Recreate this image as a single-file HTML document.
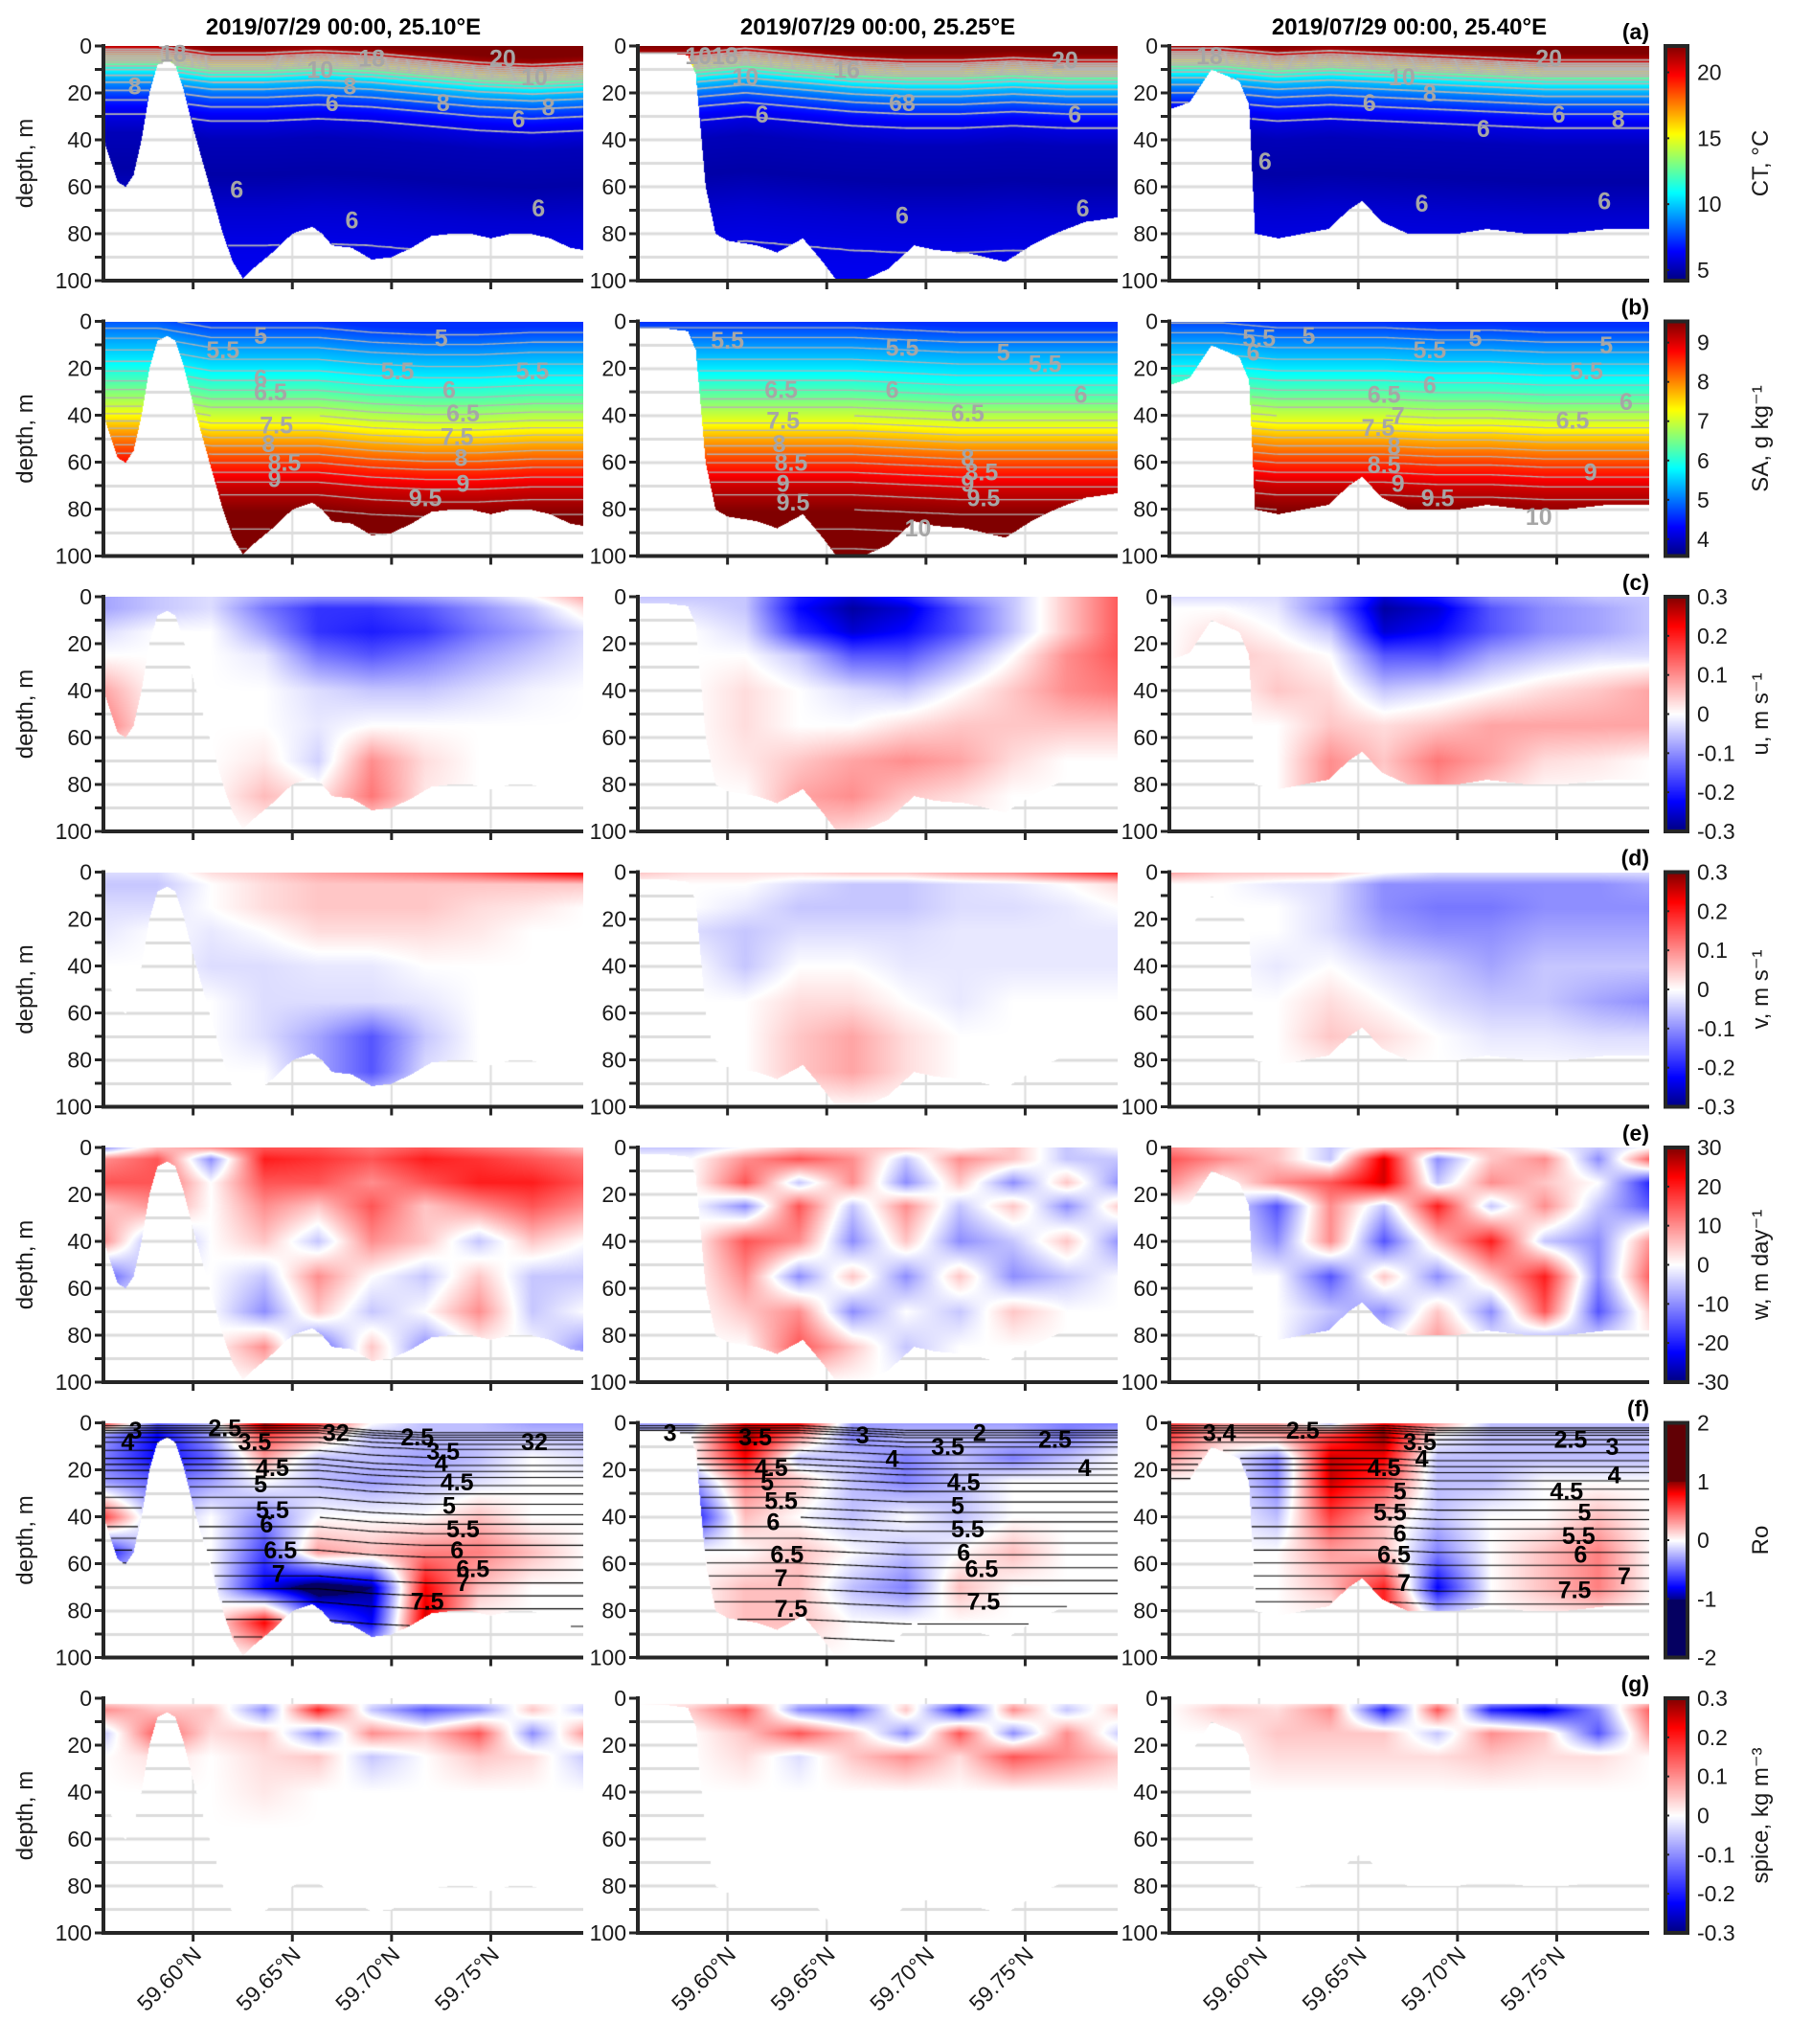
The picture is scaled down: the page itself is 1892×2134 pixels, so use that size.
<!DOCTYPE html>
<html><head><meta charset="utf-8">
<style>
body{margin:0;background:#fff}
#fig{position:relative;width:1892px;height:2134px;overflow:hidden;background:#fff}
canvas{position:absolute}
svg{position:absolute;left:0;top:0}
text{font-family:"Liberation Sans",sans-serif}
</style></head>
<body>
<div id="fig">
<svg id="ov" width="1892" height="2134"></svg>
</div>
<script>
// ---------- data ----------
const latGrid=[59.555,59.582,59.609,59.636,59.663,59.690,59.717,59.744,59.771,59.798];
const zGrid=[0,5,15,25,40,55,70,85,100];
const latTicks=[59.60,59.65,59.70,59.75];
const latTickLabels=["59.60°N","59.65°N","59.70°N","59.75°N"];
const depthTicks=[0,20,40,60,80,100];
const colTitles=["2019/07/29 00:00, 25.10°E","2019/07/29 00:00, 25.25°E","2019/07/29 00:00, 25.40°E"];

const bathLat1=[59.555,59.558,59.562,59.566,59.570,59.574,59.578,59.582,59.587,59.591,59.595,59.600,59.605,59.610,59.615,59.620,59.625,59.630,59.640,59.650,59.660,59.665,59.670,59.680,59.690,59.700,59.710,59.720,59.730,59.740,59.750,59.760,59.770,59.780,59.790,59.797];
const bathDep1=[40,48,58,60,55,40,20,8,6,8,18,35,50,65,80,92,99,95,88,80,77,80,85,86,91,90,86,81,80,80,82,80,80,82,86,87];
const bathLat2=[59.555,59.570,59.580,59.584,59.589,59.594,59.600,59.615,59.625,59.638,59.648,59.655,59.668,59.681,59.694,59.705,59.720,59.740,59.753,59.765,59.780,59.797];
const bathDep2=[3,3,4,12,60,80,83,85,88,82,92,100,100,95,85,87,88,92,85,80,75,73];
const bathLat3=[59.555,59.565,59.576,59.590,59.595,59.598,59.610,59.622,59.635,59.645,59.652,59.662,59.675,59.688,59.700,59.715,59.735,59.754,59.775,59.797];
const bathDep3=[27,24,10,15,25,80,82,80,78,70,66,75,80,80,80,78,80,80,78,78];

// CT profile (°C) vs depth
const ctZ=[0,2,4,6,8,10,13,16,20,25,30,40,55,70,85,100];
const ctVal=[22,21.5,20.5,18,15.5,13,11,9.8,8.5,7.2,6.2,5.2,4.9,5.6,6.0,6.2];
const ctOff1=[-3,-3,0,0,-1,0,2,4,5,4];
const ctOff2=[0,0,-2,0,2,3,3,2,3,3];
const ctOff3=[-2,-2,0,-1,0,1,2,3,3,3];
// SA profile
const saZ=[0,5,10,20,30,40,50,60,70,80,90,100];
const saVal=[4.6,4.9,5.2,5.7,6.3,7.0,7.8,8.5,9.1,9.5,9.8,10.1];
const saOff1=[-4,-4,0,0,0,2,3,3,2,2];
const saOff2=[0,0,0,0,0,1,2,2,2,2];
const saOff3=[-2,-2,0,0,0,1,1,2,2,2];
// density anomaly profile (panel f contours)
const sgZ=[0,2,4,8,15,20,27,36,44,54,65,76,100];
const sgVal=[2,2.5,3,3.5,4,4.5,5,5.5,6,6.5,7,7.5,8.3];
const sgOff1=[0,0,0,0,0,2,3,3,3,3];
const sgOff2=[0,0,0,0,1,2,2,2,2,2];
const sgOff3=[0,0,0,0,0,1,1,1,1,1];

// u (cm/s)
const u1=[[-8,-5,-3,-8,-10,-10,-8,-5,0,8],[-8,-5,-3,-12,-18,-18,-15,-10,-5,3],[-3,0,0,-8,-18,-20,-18,-12,-8,-3],[0,0,0,-2,-12,-15,-12,-8,-5,-2],[8,0,0,0,-3,-5,-5,-3,-1,0],[12,0,0,0,-2,0,0,0,0,0],[0,0,0,2,-4,10,3,0,0,0],[0,0,0,6,2,12,2,0,0,0],[0,0,0,0,0,0,0,0,0,0]];
const u2=[[-5,-5,-5,-20,-25,-20,-10,-5,5,15],[-3,-3,-5,-22,-28,-25,-15,-5,5,15],[0,0,-3,-18,-25,-22,-15,-5,5,15],[0,0,0,-5,-15,-15,-8,0,10,15],[0,0,3,0,-3,-5,0,5,10,12],[0,0,3,0,0,3,5,5,5,5],[0,0,2,5,8,10,8,3,0,0],[0,0,0,8,10,5,3,0,0,0],[0,0,0,5,3,0,0,0,0,0]];
const u3=[[-3,-3,-3,-10,-25,-20,-10,-8,-5,-5],[0,0,-2,-12,-28,-25,-15,-10,-8,-5],[0,3,0,-5,-25,-22,-15,-10,-8,-5],[0,5,3,0,-15,-15,-8,-5,-3,-3],[0,0,5,3,-5,-3,0,3,5,8],[0,0,0,5,3,5,8,8,8,8],[0,0,0,10,5,12,8,3,2,0],[0,0,0,10,3,8,3,0,0,0],[0,0,0,0,0,0,0,0,0,0]];
// v (cm/s)
const v1=[[-3,-3,3,5,8,10,12,15,20,25],[-5,-5,0,3,5,5,5,5,5,5],[-3,-3,0,3,5,5,5,3,2,0],[-2,0,-2,0,3,3,3,2,0,0],[0,0,-3,-3,-2,-2,0,0,0,0],[0,0,0,-3,-3,-3,-2,0,0,0],[0,0,0,-3,-8,-15,-5,0,0,0],[0,0,0,0,-8,-15,-3,0,0,0],[0,0,0,0,0,0,0,0,0,0]];
const v2=[[5,3,3,3,5,5,8,10,15,20],[0,0,0,-3,-5,-5,-3,-2,0,3],[0,0,-2,-5,-5,-5,-3,-3,-2,0],[0,-3,-5,-3,-3,-3,-2,-2,-2,-2],[0,0,-5,0,0,-2,-2,-2,-2,-2],[0,0,0,3,3,0,-2,0,0,0],[0,0,0,5,8,3,0,0,0,0],[0,0,0,5,8,3,0,0,0,0],[0,0,0,0,0,0,0,0,0,0]];
const v3=[[8,5,5,5,0,-3,-3,-3,-3,-3],[0,0,-2,-3,-10,-10,-10,-10,-10,-8],[0,0,0,-3,-10,-12,-12,-10,-10,-10],[0,0,0,-3,-8,-10,-10,-8,-8,-8],[0,0,-2,0,-3,-5,-8,-5,-5,-5],[0,0,0,3,0,-3,-5,-5,-8,-10],[0,0,0,5,3,0,-2,-2,-3,-3],[0,0,0,0,0,0,0,0,0,0],[0,0,0,0,0,0,0,0,0,0]];
// w (m/day)
const w1=[[-10,5,10,15,15,12,15,12,10,5],[10,15,-10,20,18,15,20,18,15,12],[15,15,0,15,15,10,15,20,20,15],[5,10,0,10,5,15,5,10,15,10],[10,-10,0,5,-5,10,5,-5,5,0],[-15,0,0,-5,10,0,-5,5,-5,-5],[0,0,0,-10,5,-5,0,10,-5,0],[0,0,0,10,-15,5,-10,0,0,-10],[0,0,0,0,0,0,0,0,0,0]];
const w2=[[-5,-5,0,5,5,5,0,5,-5,0],[0,0,10,15,10,-5,10,5,-5,-5],[0,0,15,-5,10,-10,5,-10,5,-10],[0,0,-10,15,-5,10,-5,5,-10,5],[0,0,15,10,-10,5,-10,-5,5,-10],[0,0,10,-10,5,-10,5,-10,-5,0],[0,0,5,10,-10,0,-5,5,0,0],[0,0,0,15,5,-5,0,0,0,0],[0,0,0,0,0,0,0,0,0,0]];
const w3=[[10,5,5,-5,5,10,5,0,-5,0],[15,10,5,-5,25,-10,5,10,-10,15],[10,0,10,15,25,-5,10,5,0,-20],[0,0,-15,10,-5,20,-5,10,-5,-15],[0,0,-10,10,-15,5,20,-5,-10,10],[0,0,0,-15,5,-10,5,20,-10,15],[0,0,0,-5,-10,5,-10,15,-15,5],[0,0,0,-10,0,10,0,-15,0,0],[0,0,0,0,0,0,0,0,0,0]];
// Ro (x10)
const ro1=[[6,-5,-2,10,6,0,-2,-2,-3,-3],[-3,-8,-3,6,3,-2,-2,-2,-2,-2],[-4,-8,-5,3,-2,-2,-3,-2,0,-1],[-3,-5,-3,0,-2,-3,-2,-1,0,0],[6,-3,0,-4,0,0,0,2,0,0],[-8,0,0,-6,3,2,4,4,2,0],[0,0,0,-8,-12,-10,8,2,0,0],[0,0,0,8,-4,-8,9,0,0,0],[0,0,0,0,0,0,0,0,0,0]];
const ro2=[[-3,-3,8,8,-3,-3,-3,-3,-4,-4],[-2,0,10,4,-4,-2,-2,-2,-4,-2],[0,0,8,-2,-2,-4,-2,-4,-2,0],[0,-4,4,2,-2,-4,-2,0,0,0],[0,-8,2,0,-2,0,-2,0,0,0],[0,0,0,2,0,-2,0,2,0,0],[0,0,2,2,-2,-4,2,0,0,0],[0,0,2,2,0,0,0,0,0,0],[0,0,0,0,0,0,0,0,0,0]];
const ro3=[[6,3,3,-2,8,3,-2,-2,-2,-2],[6,2,3,6,10,0,-2,-2,-2,-2],[3,0,-4,9,8,-2,-2,-2,-2,-2],[0,0,-4,9,6,-2,-2,0,0,0],[0,0,-2,6,2,-2,0,0,2,0],[0,0,0,3,2,-4,0,2,4,0],[0,0,0,2,7,-8,0,2,4,0],[0,0,0,0,7,0,0,0,0,0],[0,0,0,0,0,0,0,0,0,0]];
// spice (x100)
const sp1=[[0,0,0,0,0,0,0,0,0,0],[10,5,5,-10,20,-5,-15,-10,5,-5],[-5,15,3,5,-10,10,5,15,-10,10],[0,3,0,3,5,-5,0,5,3,-5],[0,0,0,2,0,0,0,0,0,0],[0,0,0,0,0,0,0,0,0,0],[0,0,0,0,0,0,0,0,0,0],[0,0,0,0,0,0,0,0,0,0],[0,0,0,0,0,0,0,0,0,0]];
const sp2=[[0,0,0,0,0,0,0,0,0,0],[0,5,15,-10,-15,5,-20,10,-5,5],[0,0,5,15,5,-10,15,-10,10,-5],[0,0,3,-3,5,10,3,15,10,5],[0,0,0,0,0,0,0,0,0,0],[0,0,0,0,0,0,0,0,0,0],[0,0,0,0,0,0,0,0,0,0],[0,0,0,0,0,0,0,0,0,0],[0,0,0,0,0,0,0,0,0,0]];
const sp3=[[0,0,0,0,0,0,0,0,0,0],[0,5,3,10,-20,15,-20,-25,-10,15],[0,0,5,5,5,-5,10,5,-15,10],[0,0,3,3,3,3,5,3,3,0],[0,0,0,0,0,0,0,0,0,0],[0,0,0,0,0,0,0,0,0,0],[0,0,0,0,0,0,0,0,0,0],[0,0,0,0,0,0,0,0,0,0],[0,0,0,0,0,0,0,0,0,0]];

// contour labels [text, lat, depth]
const labA1=[["8",59.5706,17],["18",59.590,3],["10",59.664,10],["8",59.679,17],["6",59.670,24],["8",59.726,24],["6",59.764,31],["20",59.756,5],["10",59.772,13],["8",59.779,26],["6",59.622,61],["6",59.680,74],["6",59.774,69],["18",59.690,5]];
const labA2=[["6",59.6174,29],["68",59.688,24],["6",59.775,29],["6",59.688,72],["6",59.779,69],["1018",59.592,4],["20",59.770,6],["10",59.609,13],["16",59.660,10]];
const labA3=[["6",59.6556,24],["8",59.686,20],["6",59.713,35],["6",59.751,29],["8",59.781,31],["6",59.603,49],["6",59.682,67],["6",59.774,66],["20",59.746,5],["10",59.672,13],["18",59.575,4]];
const labB1=[["5",59.634,6],["5.5",59.615,12],["5",59.725,7],["5.5",59.703,21],["6",59.634,24],["6",59.729,29],["5.5",59.771,21],["6.5",59.639,30],["6.5",59.736,39],["7.5",59.642,44],["7.5",59.733,49],["8",59.638,52],["8.5",59.646,60],["8",59.735,58],["9",59.641,67],["9.5",59.717,75],["9",59.736,69]];
const labB2=[["5.5",59.600,8],["5.5",59.688,11],["5",59.739,13],["5.5",59.760,18],["6",59.683,29],["6",59.778,31],["6.5",59.627,29],["7.5",59.628,42],["6.5",59.721,39],["8",59.626,52],["8.5",59.632,60],["9",59.628,69],["9.5",59.633,77],["8",59.721,58],["8.5",59.728,64],["9.5",59.729,75],["10",59.696,88],["9",59.721,69]];
const labB3=[["5.5",59.600,7],["5",59.625,6],["5.5",59.686,12],["5",59.709,7],["5",59.775,10],["5.5",59.765,21],["6",59.597,13],["6",59.686,27],["6.5",59.663,31],["7",59.670,40],["7.5",59.660,45],["8",59.668,53],["8.5",59.663,61],["9",59.670,69],["9.5",59.690,75],["10",59.741,83],["6",59.785,34],["6.5",59.758,42],["9",59.767,64]];
const labF1=[["3",59.571,3],["4",59.567,8],["2.5",59.616,2],["3.5",59.631,8],["4.5",59.640,19],["5",59.634,26],["5.5",59.640,37],["6",59.637,43],["6.5",59.644,54],["7",59.643,64],["32",59.672,4],["2.5",59.713,6],["3.5",59.726,12],["4",59.725,17],["4.5",59.733,25],["5",59.729,35],["5.5",59.736,45],["6",59.733,54],["6.5",59.741,62],["7",59.736,68],["7.5",59.718,76],["32",59.772,8]];
const labF2=[["3",59.571,4],["3.5",59.614,6],["4.5",59.622,19],["5",59.620,25],["5.5",59.627,33],["6",59.623,42],["6.5",59.630,56],["7",59.627,66],["7.5",59.632,79],["3",59.668,5],["4",59.683,15],["3.5",59.711,10],["2",59.727,4],["2.5",59.765,7],["4",59.780,19],["4.5",59.719,25],["5",59.716,35],["5.5",59.721,45],["6",59.719,55],["6.5",59.728,62],["7.5",59.729,76]];
const labF3=[["3.4",59.580,4],["2.5",59.622,3],["3.5",59.681,8],["4",59.682,15],["4.5",59.663,19],["5",59.671,29],["5.5",59.666,38],["6",59.671,47],["6.5",59.668,56],["7",59.673,68],["2.5",59.757,7],["3",59.778,10],["4",59.779,22],["4.5",59.755,29],["5",59.764,38],["5.5",59.761,48],["6",59.762,56],["7",59.784,65],["7.5",59.759,71]];

// colorbar ticks
const cbTicksA=[5,10,15,20], cbTicksB=[4,5,6,7,8,9];
const cbTicksUV=["-0.3","-0.2","-0.1","0","0.1","0.2","0.3"];
const cbTicksW=[-30,-20,-10,0,10,20,30], cbTicksRo=[-2,-1,0,1,2];

// ---------- layout ----------
const COLX=[108,666,1221], PW=501, PH=245;
const rowTop=i=>48+i*287.5;
const LAT0=59.5548, LAT1=59.7966;
const CBX=1739, CBW=23;
const xs=(lat,c)=>COLX[c]+(lat-LAT0)/(LAT1-LAT0)*PW;
const ys=(z,r)=>rowTop(r)+z/100*PH;

// ---------- helpers ----------
function interp1(xa,ya,x){
  if(x<=xa[0])return ya[0]; const n=xa.length; if(x>=xa[n-1])return ya[n-1];
  let i=0; while(xa[i+1]<x)i++;
  const t=(x-xa[i])/(xa[i+1]-xa[i]); return ya[i]+t*(ya[i+1]-ya[i]);
}
function interp2(g,lat,z){
  let i=0; while(i<latGrid.length-2&&latGrid[i+1]<lat)i++;
  let j=0; while(j<zGrid.length-2&&zGrid[j+1]<z)j++;
  let tx=(lat-latGrid[i])/(latGrid[i+1]-latGrid[i]); tx=Math.max(0,Math.min(1,tx));
  let ty=(z-zGrid[j])/(zGrid[j+1]-zGrid[j]); ty=Math.max(0,Math.min(1,ty));
  const a=g[j][i],b=g[j][i+1],c=g[j+1][i],d=g[j+1][i+1];
  return (a*(1-tx)+b*tx)*(1-ty)+(c*(1-tx)+d*tx)*ty;
}
function jet(t){t=Math.max(0,Math.min(1,t));
  const f=v=>Math.round(255*Math.max(0,Math.min(1,v)));
  return [f(1.5-Math.abs(4*t-3)),f(1.5-Math.abs(4*t-2)),f(1.5-Math.abs(4*t-1))];}
function div(t){t=Math.max(-1,Math.min(1,t));const s=Math.abs(t);let c;
  if(s<0.75){const k=s/0.75;c=[1,1-k,1-k];}else{const k=(s-0.75)/0.25;c=[1-0.5*k,0,0];}
  if(t<0)c=[c[2],c[1],c[0]];return c.map(v=>Math.round(v*255));}
function divRo(t){
  const s=Math.abs(t);let c;
  if(s<0.8){const k=s/0.8;c=[1,1-k,1-k];}else if(s<1){const k=(s-0.8)/0.2;c=[1-0.45*k,0,0];}else c=[0.38,0,0.02];
  if(t<0)c=[c[2],c[1],c[0]];return c.map(v=>Math.round(v*255));}

const bath=[[bathLat1,bathDep1],[bathLat2,bathDep2],[bathLat3,bathDep3]];
const profPanels={
 a:{z:ctZ,v:ctVal,off:[ctOff1,ctOff2,ctOff3],lo:4.2,hi:22.0},
 b:{z:saZ,v:saVal,off:[saOff1,saOff2,saOff3],lo:3.57,hi:9.54}
};
const gridPanels={c:[u1,u2,u3],d:[v1,v2,v3],e:[w1,w2,w3],f:[ro1,ro2,ro3],g:[sp1,sp2,sp3]};
const sgOffs=[sgOff1,sgOff2,sgOff3];
const labs={a:[labA1,labA2,labA3],b:[labB1,labB2,labB3],f:[labF1,labF2,labF3]};
const keys=['a','b','c','d','e','f','g'];

const fig=document.getElementById('fig');
const svg=document.getElementById('ov');
const NS='http://www.w3.org/2000/svg';
function S(tag,attrs,txt,parent){const e=document.createElementNS(NS,tag);for(const k in attrs)e.setAttribute(k,attrs[k]);if(txt!=null)e.textContent=txt;(parent||svg).appendChild(e);return e;}

function valueAt(key,c,lat,z){
  if(key==='a'||key==='b'){const P=profPanels[key];const off=interp1(latGrid,P.off[c],lat);return interp1(P.z,P.v,z-off);}
  return interp2(gridPanels[key][c],lat,z);
}
function colorOf(key,v){
  if(key==='a')return jet((v-4.2)/(22.0-4.2));
  if(key==='b')return jet((v-3.57)/(9.54-3.57));
  if(key==='f')return divRo(v/10);
  return div(v/30);
}
function contourGrid(ctx,F,nx,ny,st,level){
  ctx.beginPath();
  for(let j=0;j<ny-1;j++)for(let i=0;i<nx-1;i++){
    const a=F[j*nx+i],b=F[j*nx+i+1],c=F[(j+1)*nx+i+1],d=F[(j+1)*nx+i];
    if(isNaN(a)||isNaN(b)||isNaN(c)||isNaN(d))continue;
    const p=[];
    if((a-level)*(b-level)<0)p.push([i+(level-a)/(b-a),j]);
    if((b-level)*(c-level)<0)p.push([i+1,j+(level-b)/(c-b)]);
    if((d-level)*(c-level)<0)p.push([i+(level-d)/(c-d),j+1]);
    if((a-level)*(d-level)<0)p.push([i,j+(level-a)/(d-a)]);
    for(let k=0;k+1<p.length;k+=2){ctx.moveTo(p[k][0]*st,p[k][1]*st);ctx.lineTo(p[k+1][0]*st,p[k+1][1]*st);}
  }
  ctx.stroke();
}

// ---------- draw panels ----------
for(let r=0;r<7;r++){
  const key=keys[r];
  for(let c=0;c<3;c++){
    const X0=COLX[c],Y0=rowTop(r);
    const cv=document.createElement('canvas');
    cv.width=PW;cv.height=PH;cv.style.left=X0+'px';cv.style.top=Y0+'px';
    
    
    fig.insertBefore(cv,svg);
    const ctx=cv.getContext('2d');
    ctx.strokeStyle='#dcdcdc';ctx.lineWidth=3;
    for(let z=10;z<100;z+=10){const y=ys(z,r)-Y0;ctx.beginPath();ctx.moveTo(0,y);ctx.lineTo(PW,y);ctx.stroke();}
    ctx.lineWidth=2;
    latTicks.forEach(l=>{const x=xs(l,c)-X0;ctx.beginPath();ctx.moveTo(x,0);ctx.lineTo(x,PH);ctx.stroke();});
    const off=document.createElement('canvas');off.width=PW;off.height=PH;
    const octx=off.getContext('2d');const img=octx.createImageData(PW,PH);
    const [bl,bd]=bath[c];
    for(let px=0;px<PW;px++){
      const lat=LAT0+(px+0.5)/PW*(LAT1-LAT0);
      const bot=interp1(bl,bd,lat);
      for(let py=0;py<PH;py++){
        const z=(py+0.5)/PH*100;
        if(z>bot)continue;
        if(key==='g'&&z<2.5)continue;
        const col=colorOf(key,valueAt(key,c,lat,z));
        const k=(py*PW+px)*4;img.data[k]=col[0];img.data[k+1]=col[1];img.data[k+2]=col[2];img.data[k+3]=255;
      }
    }
    octx.putImageData(img,0,0);ctx.drawImage(off,0,0);
    if(key==='a'||key==='b'||key==='f'){
      const st=2,nx=Math.ceil(PW/st)+1,ny=Math.ceil(PH/st)+1;const F=new Float32Array(nx*ny);
      for(let i=0;i<nx;i++){const lat=LAT0+i*st/PW*(LAT1-LAT0);const bot=interp1(bl,bd,lat);
        for(let j=0;j<ny;j++){const z=j*st/PH*100;
          if(z>bot+0.5){F[j*nx+i]=NaN;continue;}
          if(key==='f'){const o=interp1(latGrid,sgOffs[c],lat);F[j*nx+i]=interp1(sgZ,sgVal,z-o);}
          else F[j*nx+i]=valueAt(key,c,lat,z);}}
      let levels=[];
      if(key==='a'){for(let L=6;L<=21;L+=1)levels.push(L);ctx.strokeStyle='#b4b4b4';ctx.lineWidth=1.8;}
      if(key==='b'){for(let L=4.5;L<=10;L+=0.25)levels.push(L);ctx.strokeStyle='#b4b4b4';ctx.lineWidth=1.3;}
      if(key==='f'){for(let L=2.25;L<=8;L+=0.25)levels.push(L);ctx.strokeStyle='#000';ctx.lineWidth=1.1;}
      levels.forEach(L=>contourGrid(ctx,F,nx,ny,st,L));
    }
  }
}

// ---------- axes, labels ----------
for(let r=0;r<7;r++){
  const key=keys[r];const Y0=rowTop(r);
  for(let c=0;c<3;c++){
    const X0=COLX[c];
    const g=S('g',{});
    for(let z=0;z<=100;z+=10){const y=ys(z,r);S('line',{x1:X0-9,x2:X0,y1:y,y2:y,stroke:'#262626','stroke-width':3},null,g);}
    latTicks.forEach(l=>{const x=xs(l,c);S('line',{x1:x,x2:x,y1:Y0+PH,y2:Y0+PH+9,stroke:'#262626','stroke-width':3},null,g);});
    S('line',{x1:X0,x2:X0,y1:Y0-2,y2:Y0+PH+2,stroke:'#262626','stroke-width':4,},null,g);
    S('line',{x1:X0-2,x2:X0+PW,y1:Y0+PH,y2:Y0+PH,stroke:'#262626','stroke-width':4,},null,g);
    depthTicks.forEach(z=>{S('text',{x:X0-12,y:ys(z,r)+8,'text-anchor':'end','font-size':23,fill:'#1a1a1a',},String(z),g);});
    if(c===0)S('text',{transform:`translate(34,${Y0+PH/2}) rotate(-90)`,'text-anchor':'middle','font-size':24,fill:'#1a1a1a',},'depth, m',g);
    if(r===6)latTicks.forEach((l,i)=>{const x=xs(l,c);S('text',{transform:`translate(${x+10},${Y0+PH+24}) rotate(-45)`,'text-anchor':'end','font-size':23,fill:'#1a1a1a',},latTickLabels[i],g);});
    if(r===0)S('text',{x:X0+PW/2,y:36,'text-anchor':'middle','font-size':24,'font-weight':'bold',fill:'#000',},colTitles[c],g);
    if(labs[key]){labs[key][c].forEach(L=>{
      S('text',{x:xs(L[1],c),y:ys(L[2],r)+9,'text-anchor':'middle','font-size':25,'font-weight':'bold',fill:key==='f'?'#000':'#a6a6a6',},L[0],g);});}
  }
  S('text',{x:1722,y:Y0-7,'text-anchor':'end','font-size':23,'font-weight':'bold',fill:'#000',},'('+key+')');
  const cb=document.createElement('canvas');cb.width=CBW;cb.height=PH;cb.style.left=CBX+'px';cb.style.top=Y0+'px';
  
  
  fig.insertBefore(cb,svg);
  const cctx=cb.getContext('2d');
  for(let py=0;py<PH;py++){const t=1-(py+0.5)/PH;let col;
    if(key==='a')col=jet(t);else if(key==='b')col=jet(t);else if(key==='f')col=divRo(-2+4*t);else col=div(2*t-1);
    cctx.fillStyle=`rgb(${col[0]},${col[1]},${col[2]})`;cctx.fillRect(0,py,CBW,1);}
  S('rect',{x:CBX,y:Y0,width:CBW,height:PH,fill:'none',stroke:'#262626','stroke-width':4,});
  let ticks,lo,hi,label;
  if(key==='a'){ticks=cbTicksA;lo=4.2;hi=22.0;label='CT, °C';}
  else if(key==='b'){ticks=cbTicksB;lo=3.57;hi=9.54;label='SA, g kg⁻¹';}
  else if(key==='e'){ticks=cbTicksW;lo=-30;hi=30;label='w, m day⁻¹';}
  else if(key==='f'){ticks=cbTicksRo;lo=-2;hi=2;label='Ro';}
  else {ticks=cbTicksUV;lo=-0.3;hi=0.3;label={c:'u, m s⁻¹',d:'v, m s⁻¹',g:'spice, kg m⁻³'}[key];}
  ticks.forEach(t=>{const y=Y0+PH-(parseFloat(t)-lo)/(hi-lo)*PH;
    S('line',{x1:CBX,x2:CBX+4,y1:y,y2:y,stroke:'#262626','stroke-width':2});
    S('text',{x:CBX+CBW+10,y:y+8,'font-size':23,fill:'#1a1a1a',},String(t));});
  S('text',{transform:`translate(1846,${Y0+PH/2}) rotate(-90)`,'text-anchor':'middle','font-size':24,fill:'#1a1a1a',},label);
}
</script>
</body></html>
